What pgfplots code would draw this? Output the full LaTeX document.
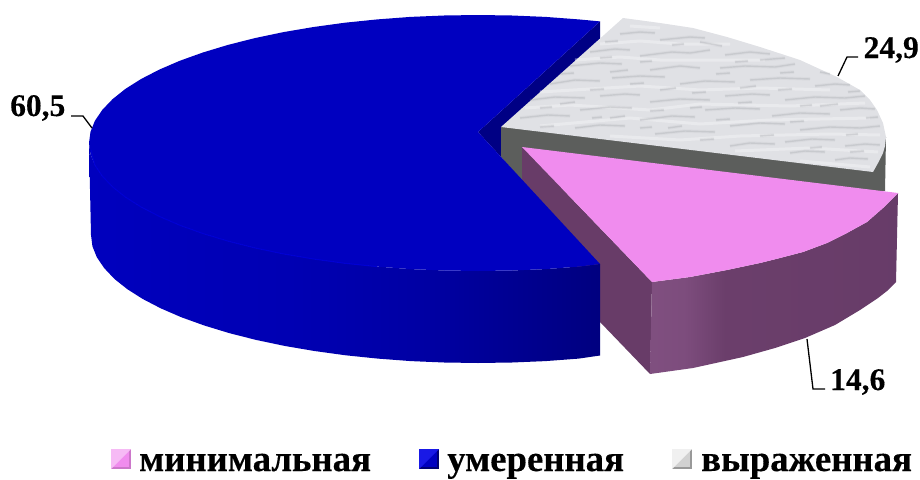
\documentclass[border=0pt]{standalone}
\usepackage{pgfplots}
\usepackage{pgfplotstable}
\pgfplotsset{compat=1.18}
\usepackage{fontspec}
\setmainfont{Liberation Serif}[BoldFeatures={FakeBold=0.25}]

\definecolor{bluetop}{RGB}{0,0,192}
\definecolor{bluedark}{RGB}{0,0,132}
\definecolor{blueedge}{RGB}{0,0,212}
\definecolor{bluelight}{RGB}{25,25,230}
\definecolor{pinktop}{RGB}{240,140,238}
\definecolor{pinkside}{RGB}{104,60,104}
\definecolor{greytop}{RGB}{224,225,229}
\definecolor{greyside}{RGB}{92,94,92}
\definecolor{streakdark}{RGB}{140,142,150}
\definecolor{streaklight}{RGB}{248,248,250}

% side walls lit from the left
\pgfdeclarehorizontalshading{bluewall}{100bp}{
  rgb(0bp)=(0,0,0.745); rgb(25bp)=(0,0,0.745); rgb(45bp)=(0,0,0.70);
  rgb(58bp)=(0,0,0.64); rgb(75bp)=(0,0,0.50); rgb(100bp)=(0,0,0.50)}
\pgfdeclarehorizontalshading{pinkwall}{100bp}{
  rgb(0bp)=(0.50,0.31,0.50); rgb(25bp)=(0.50,0.31,0.50); rgb(32bp)=(0.49,0.30,0.49);
  rgb(40bp)=(0.42,0.245,0.42); rgb(75bp)=(0.405,0.235,0.41); rgb(100bp)=(0.405,0.235,0.41)}

% marble veining of the grey sector
\pgfplotstableread{
x y
620 34
640 32
655 33
nan nan
660 40
690 37
705 38
nan nan
590 52
615 49
630 50
nan nan
640 56
672 52
690 53
710 50
nan nan
725 55
750 52
770 54
nan nan
570 66
600 63
622 64
nan nan
650 70
680 66
700 68
nan nan
720 68
745 66
775 67
795 64
nan nan
550 84
575 80
600 81
nan nan
612 78
640 76
665 77
nan nan
680 84
705 81
735 82
nan nan
750 80
780 78
810 79
nan nan
815 86
835 84
850 85
nan nan
530 100
555 97
585 98
nan nan
600 96
625 94
640 95
nan nan
650 102
680 99
710 100
nan nan
725 96
752 94
770 95
nan nan
785 100
815 97
845 98
865 96
nan nan
520 118
548 115
570 116
nan nan
580 110
610 107
632 108
nan nan
640 120
672 116
695 117
nan nan
705 110
735 108
760 109
nan nan
772 116
800 113
830 114
nan nan
840 110
860 108
875 109
nan nan
575 128
600 125
625 126
nan nan
655 134
685 131
715 132
nan nan
730 126
760 123
785 124
nan nan
800 130
830 127
860 128
880 126
nan nan
730 146
750 143
775 144
nan nan
785 142
812 139
835 140
nan nan
845 146
865 144
880 145
nan nan
790 153
805 151
825 152
nan nan
835 160
850 158
868 159
nan nan
668 128
682 126
nan nan
610 72
628 70
nan nan
700 42
722 46
nan nan
760 60
785 58
nan nan
560 104
575 102
nan nan
690 108
702 107
nan nan
610 118
625 116
nan nan
820 106
838 104
nan nan
740 88
756 86
nan nan
660 90
676 88
nan nan
605 42
618 41
nan nan
672 45
684 44
nan nan
640 62
652 61
nan nan
600 58
612 57
nan nan
735 62
748 61
nan nan
780 73
794 72
nan nan
560 74
574 73
nan nan
630 84
644 83
nan nan
716 74
730 73
nan nan
820 72
830 74
nan nan
590 90
604 89
nan nan
692 93
706 92
nan nan
778 90
792 89
nan nan
848 92
860 91
nan nan
540 108
552 107
nan nan
650 111
664 110
nan nan
738 103
752 102
nan nan
800 106
812 105
nan nan
592 118
602 117
nan nan
716 120
730 119
nan nan
790 122
804 121
nan nan
866 118
878 117
nan nan
540 127
554 126
nan nan
640 128
652 127
nan nan
700 140
714 139
nan nan
760 136
774 135
nan nan
846 135
858 134
nan nan
810 148
822 147
nan nan
850 152
864 151
nan nan
}\veinsdark
\pgfplotstableread{
x y
630 26
660 28
nan nan
600 44
640 41
680 44
730 44
nan nan
575 60
620 57
660 60
720 60
765 60
nan nan
540 92
590 89
640 86
700 90
760 88
830 90
nan nan
525 108
570 105
650 110
700 104
790 106
865 103
nan nan
540 126
630 118
700 124
770 120
870 118
nan nan
610 136
680 140
740 136
830 134
880 135
nan nan
735 151
760 150
810 148
878 152
nan nan
800 161
870 167
nan nan
}\veinslight

\newcommand{\vlabel}[2]{\node[anchor=base west,inner sep=0pt,font=\fontsize{31.5}{36}\selectfont\bfseries] at (axis cs:#1) {#2};}
\newcommand{\legendtext}[2]{\node[anchor=base west,inner sep=0pt,font=\fontsize{36.8}{42}\selectfont\bfseries] at (axis cs:#1) {#2};}

\begin{document}
\begin{tikzpicture}
\useasboundingbox (0,0) rectangle (920pt,479pt);
\begin{axis}[
  at={(0,0)}, anchor=south west,
  scale only axis, width=920pt, height=479pt,
  xmin=0, xmax=920, ymin=0, ymax=479, y dir=reverse,
  hide axis, clip=false, unbounded coords=jump,
]
% inner wall of the large sector, seen through the gap
\addplot[draw=none, fill=bluedark] coordinates {(600,21.4)(600,40)(501,130)(501,157)(478,132)} --cycle;

% "выраженная" sector
\addplot[draw=none, fill=greyside] coordinates {(501,127)(886,137)(885,191)(530,190)(501,157)} --cycle;
\addplot[draw=none, fill=greytop] coordinates {(501,127)(623,18)(660,23)(693,28)(727,37)(760,47)(800,60)(837,77)(860,90)(870,100)(877,110)(883,123)(886,137)(885,146)(883,153)(878,163)(873,172)} --cycle;
\addplot[streaklight, line width=3pt, opacity=0.4] table {\veinslight};
\addplot[streakdark, line width=3.5pt, opacity=0.07] table {\veinsdark};
\addplot[streakdark, line width=1.4pt, opacity=0.22] table {\veinsdark};

% "минимальная" sector, pulled out of the pie
\addplot[draw=none, fill=pinkside] coordinates {(522,147)(652,282)(650,374)(600,322)(522,182)} --cycle;
\addplot[draw=none, shading=pinkwall] coordinates {(652,282)(690,277)(727,270)(760,263)(780,258)(803,252)(827,243)(847,233)(867,222)(883,208)(891,200)(898,193)(896,282)(887,291)(878,298)(860,310)(835,325)(805,338)(775,348)(743,357)(693,368)(650,374)} --cycle;
\addplot[draw=none, fill=pinktop] coordinates {(522,147)(898,193)(891,200)(883,208)(867,222)(847,233)(827,243)(803,252)(780,258)(760,263)(727,270)(690,277)(652,282)} --cycle;

% "умеренная" sector: outer wall, then top face
\addplot[draw=none, shading=bluewall] coordinates {
(89,143)(90.5,154.2)(94.9,165.2)(102.3,176.1)(112.5,186.8)(125.4,197.1)(141.1,207)(159.3,216.4)(180,225.3)(202.9,233.5)(228,241.1)(254.9,247.9)(283.5,253.9)(313.6,259)(345,263.3)(377.3,266.6)(410.5,269.1)(444.1,270.5)(478,271)(511.9,270.5)(545.5,269.1)(578.7,266.6)(600,264)
(600,355.5)(578.7,358.6)(545.5,361.1)(511.9,362.5)(478,363)(444.3,362.5)(410.8,361.1)(377.8,358.6)(345.7,355.3)(314.4,351)(284.5,345.9)(256,339.9)(229.2,333.1)(204.3,325.5)(181.5,317.3)(160.9,308.4)(142.8,299)(127.2,289.1)(114.3,278.8)(104.2,268.1)(96.8,257.2)(92.4,246.2)(91,235)} --cycle;
\addplot[draw=none, fill=bluetop] coordinates {
(600,21.4)(578.7,19.4)(545.5,16.9)(511.9,15.5)(478,15)(444.1,15.5)(410.5,16.9)(377.3,19.4)(345,22.7)(313.6,27)(283.5,32.1)(254.9,38.1)(228,44.9)(202.9,52.5)(180,60.7)(159.3,69.6)(141.1,79)(125.4,88.9)(112.5,99.2)(102.3,109.9)(94.9,120.8)(90.5,131.8)(89,143)
(90.5,154.2)(94.9,165.2)(102.3,176.1)(112.5,186.8)(125.4,197.1)(141.1,207)(159.3,216.4)(180,225.3)(202.9,233.5)(228,241.1)(254.9,247.9)(283.5,253.9)(313.6,259)(345,263.3)(377.3,266.6)(410.5,269.1)(444.1,270.5)(478,271)(511.9,270.5)(545.5,269.1)(578.7,266.6)(600,264)
(478,132)} --cycle;
% thin highlight along the rim
\addplot[blueedge, line width=1pt] coordinates {(91,150)(94.9,165.2)(102.3,176.1)(112.5,186.8)(125.4,197.1)(141.1,207)(159.3,216.4)(180,225.3)(202.9,233.5)(228,241.1)(254.9,247.9)(283.5,253.9)(313.6,259)(345,263.3)(377,266.6)};

% leader lines
\addplot[black, line width=1.3pt] coordinates {(838,76)(847,57)(858,57)};
\addplot[black, line width=1.3pt] coordinates {(807,339)(813,389)(825,389)};
\addplot[black, line width=1.3pt] coordinates {(92,128)(83,116)(71,116)};

% legend swatches
\addplot[draw=none, fill=pinktop!85!black] coordinates {(111,449)(131,449)(131,469)(111,469)} --cycle;
\addplot[draw=none, fill=pinktop] coordinates {(113,451)(129,451)(129,467)(113,467)} --cycle;
\addplot[draw=none, fill=pinktop!60!white] coordinates {(111,449)(131,449)(113,467)(111,469)} --cycle;

\addplot[draw=none, fill=bluetop!60!black] coordinates {(419,449)(439,449)(439,469)(419,469)} --cycle;
\addplot[draw=none, fill=bluetop] coordinates {(421,451)(437,451)(437,467)(421,467)} --cycle;
\addplot[draw=none, fill=bluelight] coordinates {(419,449)(439,449)(421,467)(419,469)} --cycle;

\addplot[draw=none, fill=black!40] coordinates {(672,449)(692,449)(692,469)(672,469)} --cycle;
\addplot[draw=none, fill=black!18] coordinates {(674,451)(690,451)(690,467)(674,467)} --cycle;
\addplot[draw=none, fill=black!6] coordinates {(672,449)(692,449)(674,467)(672,469)} --cycle;

% value labels
\vlabel{10,116}{60,5}
\vlabel{863.5,58}{24,9}
\vlabel{830,390}{14,6}

% legend entries
\legendtext{139,471}{минимальная}
\legendtext{447,471}{умеренная}
\legendtext{701,471}{выраженная}
\end{axis}
\end{tikzpicture}
\end{document}
